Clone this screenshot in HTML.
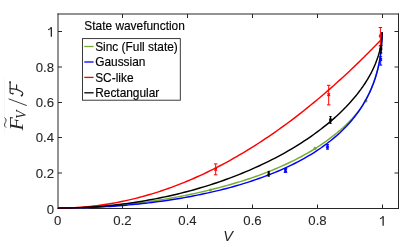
<!DOCTYPE html>
<html><head><meta charset="utf-8"><style>
html,body{margin:0;padding:0;background:#fff;}
svg{display:block;will-change:transform;}
text{font-family:"Liberation Sans",sans-serif;font-size:11.9px;fill:#262626;}
#labels text{font-size:13.2px;stroke:#262626;stroke-width:0.1px;}
.lg{fill:#000;stroke:#000;stroke-width:0.15px;}
</style></head><body>
<svg width="415" height="247" viewBox="0 0 415 247">
<g stroke="#262626" stroke-width="1" fill="none">
<line x1="58.0" y1="13.5" x2="58.0" y2="209.0"/>
<line x1="398.5" y1="13.5" x2="398.5" y2="209.0"/>
<line x1="57.5" y1="14.0" x2="399.0" y2="14.0"/>
<line x1="57.5" y1="208.5" x2="399.0" y2="208.5"/>
<line x1="122.5" y1="208.5" x2="122.5" y2="204.5"/>
<line x1="122.5" y1="14.0" x2="122.5" y2="18.0"/>
<line x1="187.5" y1="208.5" x2="187.5" y2="204.5"/>
<line x1="187.5" y1="14.0" x2="187.5" y2="18.0"/>
<line x1="252.5" y1="208.5" x2="252.5" y2="204.5"/>
<line x1="252.5" y1="14.0" x2="252.5" y2="18.0"/>
<line x1="317.5" y1="208.5" x2="317.5" y2="204.5"/>
<line x1="317.5" y1="14.0" x2="317.5" y2="18.0"/>
<line x1="382.5" y1="208.5" x2="382.5" y2="204.5"/>
<line x1="382.5" y1="14.0" x2="382.5" y2="18.0"/>
<line x1="58.0" y1="173.0" x2="62.0" y2="173.0"/>
<line x1="398.5" y1="173.0" x2="394.5" y2="173.0"/>
<line x1="58.0" y1="137.5" x2="62.0" y2="137.5"/>
<line x1="398.5" y1="137.5" x2="394.5" y2="137.5"/>
<line x1="58.0" y1="102.5" x2="62.0" y2="102.5"/>
<line x1="398.5" y1="102.5" x2="394.5" y2="102.5"/>
<line x1="58.0" y1="67.0" x2="62.0" y2="67.0"/>
<line x1="398.5" y1="67.0" x2="394.5" y2="67.0"/>
<line x1="58.0" y1="31.5" x2="62.0" y2="31.5"/>
<line x1="398.5" y1="31.5" x2="394.5" y2="31.5"/>
</g>
<g id="curves">
<circle cx="365.9" cy="100.9" r="1.6" fill="#77ac30"/>
<path d="M57.90,208.10 L61.14,208.09 L64.38,208.07 L67.63,208.02 L70.87,207.96 L74.11,207.89 L77.35,207.80 L80.59,207.69 L83.84,207.56 L87.08,207.42 L90.32,207.26 L93.56,207.08 L96.80,206.89 L100.05,206.69 L103.29,206.46 L106.53,206.22 L109.77,205.97 L113.01,205.70 L116.26,205.41 L119.50,205.10 L122.74,204.78 L125.98,204.45 L129.22,204.09 L132.47,203.73 L135.71,203.34 L138.95,202.94 L142.19,202.52 L145.43,202.09 L148.68,201.64 L151.92,201.17 L155.16,200.69 L158.40,200.19 L161.64,199.67 L164.89,199.14 L168.13,198.59 L171.37,198.03 L174.61,197.45 L177.85,196.85 L181.10,196.23 L184.34,195.60 L187.58,194.95 L190.82,194.28 L194.06,193.59 L197.31,192.88 L200.55,192.16 L203.79,191.42 L207.03,190.65 L210.27,189.87 L213.52,189.07 L216.76,188.24 L220.00,187.40 L223.24,186.53 L226.48,185.63 L229.73,184.72 L232.97,183.78 L236.21,182.82 L239.45,181.83 L242.69,180.82 L245.94,179.78 L249.18,178.72 L252.42,177.63 L255.66,176.49 L258.90,175.33 L262.15,174.13 L265.39,172.90 L268.63,171.64 L271.87,170.34 L275.11,169.00 L278.36,167.63 L281.60,166.21 L284.84,164.75 L288.08,163.25 L291.32,161.70 L294.57,160.10 L297.81,158.45 L301.05,156.74 L304.29,154.98 L307.53,153.15 L310.78,151.25 L314.02,149.29 L317.26,147.24 L320.50,145.11 L323.74,142.90 L326.99,140.58 L330.23,138.15 L333.47,135.61 L336.71,133.04 L339.95,130.33 L343.20,127.46 L346.44,124.41 L349.68,121.17 L350.33,120.50 L350.98,119.82 L351.63,119.14 L352.27,118.44 L352.92,117.73 L353.57,117.01 L354.22,116.29 L354.87,115.54 L355.52,114.79 L356.16,114.02 L356.81,113.24 L357.46,112.45 L358.11,111.64 L358.76,110.82 L359.41,109.98 L360.05,109.03 L360.70,108.07 L361.35,107.09 L362.00,106.08 L362.65,105.05 L363.30,104.00 L363.94,102.93 L364.59,101.83 L365.24,100.70 L365.89,99.54 L366.54,98.36 L367.19,97.14 L367.84,95.89 L368.48,94.60 L369.13,93.27 L369.78,91.89 L370.43,90.47 L371.08,89.00 L371.73,87.48 L372.37,85.89 L373.02,84.24 L373.67,82.52 L374.32,80.71 L374.97,78.81 L375.62,76.80 L376.26,74.67 L376.91,72.40 L377.56,69.95 L378.21,67.29 L378.86,64.36 L379.02,63.58 L379.18,62.77 L379.34,61.94 L379.51,61.08 L379.67,60.18 L379.83,59.26 L379.99,58.30 L380.15,57.29 L380.32,56.24 L380.48,55.13 L380.64,53.97 L380.80,52.72 L380.97,51.40 L381.13,49.96 L381.29,48.39 L381.45,46.64 L381.61,44.64 L381.78,42.24 L381.87,40.49 L381.97,38.28 L382.04,36.25 L382.07,34.81 L382.08,33.79 L382.10,32.42" fill="none" stroke="#77ac30" stroke-width="1.45" stroke-linejoin="round"/>
<path d="M57.90,208.10 L61.14,208.09 L64.38,208.07 L67.63,208.04 L70.87,208.00 L74.11,207.94 L77.35,207.87 L80.59,207.78 L83.84,207.68 L87.08,207.57 L90.32,207.45 L93.56,207.31 L96.80,207.16 L100.05,206.99 L103.29,206.82 L106.53,206.62 L109.77,206.42 L113.01,206.20 L116.26,205.97 L119.50,205.72 L122.74,205.46 L125.98,205.18 L129.22,204.89 L132.47,204.59 L135.71,204.27 L138.95,203.94 L142.19,203.59 L145.43,203.23 L148.68,202.85 L151.92,202.45 L155.16,202.04 L158.40,201.62 L161.64,201.17 L164.89,200.71 L168.13,200.24 L171.37,199.75 L174.61,199.24 L177.85,198.71 L181.10,198.17 L184.34,197.60 L187.58,197.02 L190.82,196.42 L194.06,195.80 L197.31,195.16 L200.55,194.50 L203.79,193.82 L207.03,193.12 L210.27,192.40 L213.52,191.65 L216.76,190.89 L220.00,190.10 L223.24,189.28 L226.48,188.44 L229.73,187.58 L232.97,186.69 L236.21,185.78 L239.45,184.83 L242.69,183.86 L245.94,182.86 L249.18,181.83 L252.42,180.77 L255.66,179.68 L258.90,178.55 L262.15,177.39 L265.39,176.19 L268.63,174.95 L271.87,173.68 L275.11,172.36 L278.36,171.00 L281.60,169.60 L284.84,168.15 L288.08,166.65 L291.32,165.10 L294.57,163.49 L297.81,161.83 L301.05,160.10 L304.29,158.31 L307.53,156.45 L310.78,154.52 L314.02,152.51 L317.26,150.41 L320.50,148.23 L323.74,145.94 L326.99,143.55 L330.23,141.04 L333.47,138.40 L336.71,135.62 L339.95,132.68 L343.20,129.56 L346.44,126.25 L349.68,122.70 L350.33,121.96 L350.98,121.21 L351.63,120.45 L352.27,119.68 L352.92,118.89 L353.57,118.09 L354.22,117.28 L354.87,116.46 L355.52,115.62 L356.16,114.77 L356.81,113.90 L357.46,113.02 L358.11,112.12 L358.76,111.21 L359.41,110.27 L360.05,109.32 L360.70,108.35 L361.35,107.36 L362.00,106.35 L362.65,105.32 L363.30,104.26 L363.94,103.18 L364.59,102.07 L365.24,100.94 L365.89,99.78 L366.54,98.58 L367.19,97.36 L367.84,96.10 L368.48,94.80 L369.13,93.46 L369.78,92.08 L370.43,90.65 L371.08,89.18 L371.73,87.64 L372.37,86.05 L373.02,84.39 L373.67,82.66 L374.32,80.84 L374.97,78.93 L375.62,76.91 L376.26,74.77 L376.91,72.49 L377.56,70.03 L378.21,67.36 L378.86,64.42 L379.02,63.63 L379.18,62.82 L379.34,61.99 L379.51,61.13 L379.67,60.23 L379.83,59.30 L379.99,58.34 L380.15,57.33 L380.32,56.28 L380.48,55.17 L380.64,54.00 L380.80,52.75 L380.97,51.42 L381.13,49.98 L381.29,48.41 L381.45,46.65 L381.61,44.65 L381.78,42.25 L381.87,40.49 L381.97,38.28 L382.04,36.25 L382.07,34.81 L382.08,33.79 L382.10,32.42" fill="none" stroke="#0000ff" stroke-width="1.45" stroke-linejoin="round"/>
<path d="M57.90,208.10 L61.14,208.08 L64.38,208.03 L67.63,207.95 L70.87,207.83 L74.11,207.68 L77.35,207.49 L80.59,207.27 L83.84,207.02 L87.08,206.73 L90.32,206.41 L93.56,206.05 L96.80,205.66 L100.05,205.24 L103.29,204.78 L106.53,204.29 L109.77,203.76 L113.01,203.21 L116.26,202.61 L119.50,201.99 L122.74,201.33 L125.98,200.63 L129.22,199.90 L132.47,199.14 L135.71,198.34 L138.95,197.51 L142.19,196.65 L145.43,195.75 L148.68,194.82 L151.92,193.86 L155.16,192.86 L158.40,191.82 L161.64,190.76 L164.89,189.66 L168.13,188.52 L171.37,187.35 L174.61,186.15 L177.85,184.91 L181.10,183.64 L184.34,182.34 L187.58,181.00 L190.82,179.63 L194.06,178.22 L197.31,176.78 L200.55,175.31 L203.79,173.80 L207.03,172.26 L210.27,170.69 L213.52,169.08 L216.76,167.43 L220.00,165.76 L223.24,164.05 L226.48,162.30 L229.73,160.52 L232.97,158.71 L236.21,156.86 L239.45,154.98 L242.69,153.07 L245.94,151.12 L249.18,149.14 L252.42,147.13 L255.66,145.08 L258.90,142.99 L262.15,140.88 L265.39,138.72 L268.63,136.54 L271.87,134.32 L275.11,132.07 L278.36,129.78 L281.60,127.46 L284.84,125.11 L288.08,122.72 L291.32,120.30 L294.57,117.84 L297.81,115.35 L301.05,112.83 L304.29,110.27 L307.53,107.68 L310.78,105.05 L314.02,102.39 L317.26,99.70 L320.50,96.97 L323.74,94.21 L326.99,91.42 L330.23,88.59 L333.47,85.73 L336.71,82.83 L339.95,79.90 L343.20,76.94 L346.44,73.94 L349.68,70.91 L350.33,70.30 L350.98,69.68 L351.63,69.07 L352.27,68.46 L352.92,67.84 L353.57,67.22 L354.22,66.61 L354.87,65.99 L355.52,65.36 L356.16,64.74 L356.81,64.12 L357.46,63.49 L358.11,62.87 L358.76,62.24 L359.41,61.61 L360.05,60.98 L360.70,60.35 L361.35,59.71 L362.00,59.08 L362.65,58.44 L363.30,57.80 L363.94,57.16 L364.59,56.52 L365.24,55.88 L365.89,55.24 L366.54,54.60 L367.19,53.95 L367.84,53.30 L368.48,52.65 L369.13,52.00 L369.78,51.35 L370.43,50.70 L371.08,50.05 L371.73,49.39 L372.37,48.74 L373.02,48.08 L373.67,47.42 L374.32,46.76 L374.97,46.10 L375.62,45.43 L376.26,44.77 L376.91,44.10 L377.56,43.43 L378.21,42.77 L378.86,42.10 L379.02,41.93 L379.18,41.76 L379.34,41.59 L379.51,41.42 L379.67,41.26 L379.83,41.09 L379.99,40.92 L380.15,40.75 L380.32,40.58 L380.48,40.42 L380.64,40.25 L380.80,40.08 L380.97,39.91 L381.13,39.74 L381.29,39.57 L381.45,39.40 L381.61,39.23 L381.78,39.06 L381.87,38.96 L381.97,38.86 L382.04,38.79 L382.07,38.76 L382.08,38.74 L382.10,38.73" fill="none" stroke="#ff0000" stroke-width="1.45" stroke-linejoin="round"/>
<path d="M57.90,208.10 L61.14,208.09 L64.38,208.06 L67.63,208.01 L70.87,207.94 L74.11,207.85 L77.35,207.74 L80.59,207.61 L83.84,207.45 L87.08,207.28 L90.32,207.09 L93.56,206.88 L96.80,206.64 L100.05,206.39 L103.29,206.12 L106.53,205.82 L109.77,205.50 L113.01,205.17 L116.26,204.81 L119.50,204.43 L122.74,204.03 L125.98,203.61 L129.22,203.17 L132.47,202.71 L135.71,202.23 L138.95,201.72 L142.19,201.19 L145.43,200.65 L148.68,200.07 L151.92,199.48 L155.16,198.87 L158.40,198.23 L161.64,197.57 L164.89,196.89 L168.13,196.18 L171.37,195.45 L174.61,194.70 L177.85,193.93 L181.10,193.13 L184.34,192.30 L187.58,191.46 L190.82,190.59 L194.06,189.69 L197.31,188.77 L200.55,187.82 L203.79,186.85 L207.03,185.85 L210.27,184.83 L213.52,183.77 L216.76,182.70 L220.00,181.59 L223.24,180.46 L226.48,179.29 L229.73,178.10 L232.97,176.88 L236.21,175.63 L239.45,174.35 L242.69,173.03 L245.94,171.69 L249.18,170.31 L252.42,168.90 L255.66,167.46 L258.90,165.98 L262.15,164.46 L265.39,162.91 L268.63,161.32 L271.87,159.69 L275.11,158.02 L278.36,156.31 L281.60,154.56 L284.84,152.76 L288.08,150.92 L291.32,149.02 L294.57,147.08 L297.81,145.09 L301.05,143.04 L304.29,140.94 L307.53,138.78 L310.78,136.55 L314.02,134.26 L317.26,131.89 L320.50,129.46 L323.74,126.94 L326.99,124.34 L330.23,121.64 L333.47,118.85 L336.71,115.94 L339.95,112.92 L343.20,109.76 L346.44,106.46 L349.68,102.99 L350.33,102.27 L350.98,101.55 L351.63,100.82 L352.27,100.08 L352.92,99.33 L353.57,98.57 L354.22,97.81 L354.87,97.03 L355.52,96.25 L356.16,95.45 L356.81,94.64 L357.46,93.83 L358.11,93.00 L358.76,92.16 L359.41,91.31 L360.05,90.44 L360.70,89.56 L361.35,88.67 L362.00,87.77 L362.65,86.85 L363.30,85.91 L363.94,84.96 L364.59,83.98 L365.24,83.00 L365.89,81.99 L366.54,80.96 L367.19,79.91 L367.84,78.83 L368.48,77.73 L369.13,76.61 L369.78,75.45 L370.43,74.27 L371.08,73.05 L371.73,71.79 L372.37,70.50 L373.02,69.16 L373.67,67.77 L374.32,66.33 L374.97,64.83 L375.62,63.26 L376.26,61.60 L376.91,59.86 L377.56,58.00 L378.21,56.01 L378.86,53.84 L379.02,53.27 L379.18,52.68 L379.34,52.07 L379.51,51.45 L379.67,50.80 L379.83,50.14 L379.99,49.45 L380.15,48.73 L380.32,47.99 L380.48,47.21 L380.64,46.39 L380.80,45.52 L380.97,44.60 L381.13,43.61 L381.29,42.53 L381.45,41.34 L381.61,39.99 L381.78,38.39 L381.87,37.23 L381.97,35.78 L382.04,34.47 L382.07,33.54 L382.08,32.88 L382.10,32.01" fill="none" stroke="#000000" stroke-width="1.45" stroke-linejoin="round"/>
</g>
<g id="markers">
<g stroke="#ff0000" fill="none"><line x1="215.7" y1="163.9" x2="215.7" y2="174.8" stroke-width="1.0"/><line x1="213.95" y1="163.9" x2="217.45" y2="163.9" stroke-width="1"/><line x1="213.95" y1="174.8" x2="217.45" y2="174.8" stroke-width="1"/><path d="M214.39999999999998,168.0 L217.0,170.60000000000002 M214.39999999999998,170.60000000000002 L217.0,168.0" stroke-width="1.25"/></g>
<g stroke="#ff0000" fill="none"><line x1="328.7" y1="85.3" x2="328.7" y2="104.9" stroke-width="1.0"/><line x1="326.95" y1="85.3" x2="330.45" y2="85.3" stroke-width="1"/><line x1="326.95" y1="104.9" x2="330.45" y2="104.9" stroke-width="1"/><path d="M327.4,93.4 L330.0,96.0 M327.4,96.0 L330.0,93.4" stroke-width="1.25"/></g>
<g stroke="#ff0000" fill="none"><line x1="380.4" y1="27.5" x2="380.4" y2="46.0" stroke-width="1.0"/><line x1="378.65" y1="27.5" x2="382.15" y2="27.5" stroke-width="1"/><line x1="378.65" y1="46.0" x2="382.15" y2="46.0" stroke-width="1"/><path d="M379.09999999999997,34.7 L381.7,37.3 M379.09999999999997,37.3 L381.7,34.7" stroke-width="1.25"/></g>
<g stroke="#000000" fill="none"><line x1="268.7" y1="171.4" x2="268.7" y2="176.2" stroke-width="1.4"/><line x1="267.59999999999997" y1="171.4" x2="269.8" y2="171.4" stroke-width="1"/><line x1="267.59999999999997" y1="176.2" x2="269.8" y2="176.2" stroke-width="1"/><path d="M267.59999999999997,172.6 L269.8,174.79999999999998 M267.59999999999997,174.79999999999998 L269.8,172.6" stroke-width="1.25"/></g>
<g stroke="#000000" fill="none"><line x1="330.5" y1="116.5" x2="330.5" y2="123.4" stroke-width="1.3"/><line x1="329.4" y1="116.5" x2="331.6" y2="116.5" stroke-width="1"/><line x1="329.4" y1="123.4" x2="331.6" y2="123.4" stroke-width="1"/><path d="M329.3,118.8 L331.7,121.2 M329.3,121.2 L331.7,118.8" stroke-width="1.25"/></g>
<g stroke="#000000" fill="none"><line x1="380.9" y1="45.5" x2="380.9" y2="53.0" stroke-width="1.0"/><line x1="379.4" y1="45.5" x2="382.4" y2="45.5" stroke-width="1"/><line x1="379.4" y1="53.0" x2="382.4" y2="53.0" stroke-width="1"/><path d="M379.59999999999997,47.7 L382.2,50.3 M379.59999999999997,50.3 L382.2,47.7" stroke-width="1.25"/></g>
<g stroke="#0000ff" fill="none"><line x1="285.5" y1="168.6" x2="285.5" y2="172.4" stroke-width="1.0"/><line x1="283.75" y1="168.6" x2="287.25" y2="168.6" stroke-width="1"/><line x1="283.75" y1="172.4" x2="287.25" y2="172.4" stroke-width="1"/><path d="M284.2,169.2 L286.8,171.8 M284.2,171.8 L286.8,169.2" stroke-width="1.25"/></g>
<g stroke="#0000ff" fill="none"><line x1="327.5" y1="144.6" x2="327.5" y2="149.2" stroke-width="1.0"/><line x1="326.0" y1="144.6" x2="329.0" y2="144.6" stroke-width="1"/><line x1="326.0" y1="149.2" x2="329.0" y2="149.2" stroke-width="1"/><path d="M326.2,145.7 L328.8,148.3 M326.2,148.3 L328.8,145.7" stroke-width="1.25"/></g>
<g stroke="#0000ff" fill="none"><line x1="380.7" y1="56.7" x2="380.7" y2="65.1" stroke-width="1.0"/><line x1="379.2" y1="56.7" x2="382.2" y2="56.7" stroke-width="1"/><line x1="379.2" y1="65.1" x2="382.2" y2="65.1" stroke-width="1"/><path d="M379.4,58.2 L382.0,60.8 M379.4,60.8 L382.0,58.2" stroke-width="1.25"/></g>
<circle cx="210.4" cy="190.1" r="1.6" fill="#77ac30"/>
<circle cx="315.0" cy="148.4" r="1.6" fill="#77ac30"/>
</g>
<g id="labels">
<text x="57.6" y="225.1" text-anchor="middle">0</text>
<text x="122.5" y="225.1" text-anchor="middle">0.2</text>
<text x="187.5" y="225.1" text-anchor="middle">0.4</text>
<text x="252.5" y="225.1" text-anchor="middle">0.6</text>
<text x="317.5" y="225.1" text-anchor="middle">0.8</text>
<g stroke="#262626" fill="none"><line x1="383.15000000000003" y1="225.7" x2="383.15000000000003" y2="216.29999999999998" stroke-width="1.3"/><path d="M382.95,216.39999999999998 Q382.3,218.2 379.90000000000003,218.79999999999998" stroke-width="1.15"/></g>
<text x="54" y="213.70000000000002" text-anchor="end">0</text>
<text x="54" y="177.8" text-anchor="end">0.2</text>
<text x="54" y="142.3" text-anchor="end">0.4</text>
<text x="54" y="107.3" text-anchor="end">0.6</text>
<text x="54" y="71.8" text-anchor="end">0.8</text>
<g stroke="#262626" fill="none"><line x1="51.35" y1="36.7" x2="51.35" y2="27.300000000000004" stroke-width="1.3"/><path d="M51.15,27.400000000000002 Q50.5,29.200000000000003 48.1,29.800000000000004" stroke-width="1.15"/></g>
</g>
<text x="134.6" y="30.2" text-anchor="middle" class="lg">State wavefunction</text>
<g id="legend">
<rect x="82.5" y="38.6" width="97.8" height="61.6" fill="#fff" stroke="#262626" stroke-width="0.9"/>
<line x1="84.3" x2="93.6" y1="46.5" y2="46.5" stroke="#77ac30" stroke-width="1.3"/>
<line x1="84.3" x2="93.6" y1="62.0" y2="62.0" stroke="#0000ff" stroke-width="1.3"/>
<line x1="84.3" x2="93.6" y1="77.4" y2="77.4" stroke="#ff0000" stroke-width="1.3"/>
<line x1="84.3" x2="93.6" y1="92.8" y2="92.8" stroke="#000" stroke-width="1.3"/>
<text x="95.2" y="51.1" class="lg">Sinc (Full state)</text>
<text x="95.2" y="66.4" class="lg">Gaussian</text>
<text x="95.2" y="81.8" class="lg">SC-like</text>
<text x="95.2" y="97.0" class="lg">Rectangular</text>
</g>
<line x1="4.4" y1="78" x2="4.4" y2="134" stroke="#f7f7f7" stroke-width="1"/>
<g id="ylabel" transform="translate(22.9,131) rotate(-90)" fill="#262626">
<text x="0.5" y="0" transform="scale(1.12,1)" style="font-family:'Liberation Serif',serif;font-style:italic;font-size:19.6px">F</text>
<path d="M3.4,-16.8 C4.9,-18.8 6.7,-18.7 8.4,-17.6 S12.0,-16.4 13.5,-18.4" fill="none" stroke="#262626" stroke-width="0.9"/>
<text x="12.3" y="2.9" style="font-family:'Liberation Serif',serif;font-style:italic;font-size:13.6px">V</text>
<line x1="25.4" y1="3.9" x2="32.2" y2="-14.3" stroke="#262626" stroke-width="0.9"/>
<g transform="translate(33.5,0)" fill="none" stroke="#262626" stroke-width="1.15" stroke-linecap="round" stroke-linejoin="round">
<path d="M3.9,-10.0 C3.7,-11.6 4.2,-12.8 5.6,-12.8 L15.4,-12.8"/>
<path d="M8.9,-12.8 C8.7,-10 8.4,-8 8.1,-6.6 C7.7,-5 7.2,-3.8 6.55,-2.8 C5.9,-1.6 5.2,-0.1 4.0,-0.1 C3,-0.1 2.2,-0.5 1.9,-1.4"/>
<path d="M8.1,-6.3 L12.7,-6.3"/>
<circle cx="15.3" cy="-12.8" r="0.35"/><circle cx="2.0" cy="-1.3" r="0.4"/><circle cx="3.9" cy="-10.1" r="0.3"/>
</g>
</g>
<text x="228.2" y="241.4" text-anchor="middle" font-style="italic" style="font-size:14.5px">V</text>
</svg>
</body></html>
